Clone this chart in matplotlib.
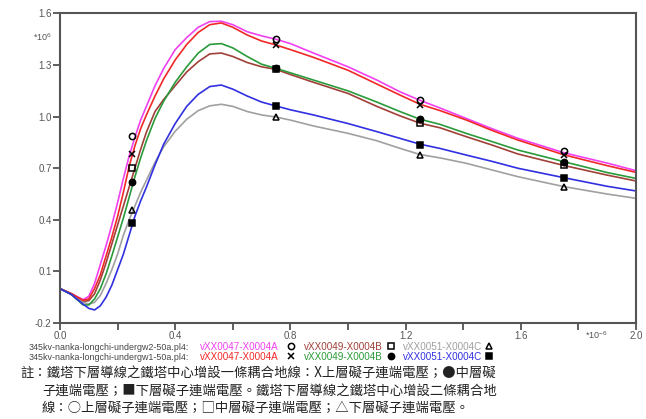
import matplotlib
matplotlib.use("Agg")
import matplotlib.pyplot as plt
from matplotlib.lines import Line2D

# time axis (x 1e-6 s) and induced voltages (x 1e6 V)
t = [0.0, 0.04, 0.08, 0.10, 0.12, 0.14, 0.16, 0.18, 0.20, 0.22, 0.24, 0.26, 0.28, 0.30,
     0.33, 0.36, 0.40, 0.44, 0.48, 0.52, 0.56, 0.60, 0.65, 0.70, 0.75, 0.80, 0.88, 1.0,
     1.1, 1.18, 1.25, 1.32, 1.41, 1.5, 1.59, 1.75, 1.9, 2.0]

gw2_a = [0.0, -0.03, -0.064, -0.045, 0.03, 0.14, 0.25, 0.37, 0.50, 0.64, 0.77, 0.88, 0.98, 1.06,
         1.18, 1.28, 1.39, 1.46, 1.52, 1.553, 1.555, 1.535, 1.494, 1.47, 1.45, 1.425, 1.37, 1.29,
         1.213, 1.145, 1.095, 1.05, 0.99, 0.93, 0.874, 0.79, 0.73, 0.686]
gw1_a = [0.0, -0.03, -0.068, -0.06, 0.0, 0.08, 0.19, 0.30, 0.42, 0.56, 0.71, 0.83, 0.93, 1.01,
         1.12, 1.22, 1.33, 1.42, 1.49, 1.535, 1.545, 1.52, 1.475, 1.44, 1.417, 1.39, 1.345, 1.27,
         1.19, 1.126, 1.072, 1.035, 0.981, 0.92, 0.864, 0.778, 0.715, 0.676]
gw2_b = [0.0, -0.03, -0.075, -0.07, -0.03, 0.05, 0.15, 0.26, 0.37, 0.48, 0.59, 0.70, 0.81, 0.91,
         1.03, 1.10, 1.18, 1.26, 1.32, 1.365, 1.37, 1.35, 1.315, 1.29, 1.275, 1.245, 1.2, 1.135,
         1.06, 1.005, 0.962, 0.935, 0.884, 0.835, 0.783, 0.716, 0.66, 0.626]
gw1_b = [0.0, -0.035, -0.095, -0.095, -0.06, 0.0, 0.085, 0.19, 0.30, 0.41, 0.53, 0.65, 0.76, 0.86,
         0.99, 1.09, 1.20, 1.29, 1.37, 1.42, 1.425, 1.40, 1.35, 1.305, 1.281, 1.255, 1.213, 1.15,
         1.085, 1.03, 0.985, 0.955, 0.903, 0.855, 0.806, 0.738, 0.675, 0.641]
gw2_c = [0.0, -0.035, -0.08, -0.09, -0.08, -0.04, 0.03, 0.11, 0.20, 0.31, 0.40, 0.48, 0.56, 0.63,
         0.735, 0.825, 0.915, 0.985, 1.035, 1.063, 1.072, 1.06, 1.03, 1.01, 0.998, 0.98, 0.946, 0.903,
         0.86, 0.816, 0.78, 0.76, 0.729, 0.69, 0.651, 0.593, 0.55, 0.525]
gw1_c = [0.0, -0.035, -0.09, -0.115, -0.124, -0.1, -0.05, 0.02, 0.11, 0.20, 0.31, 0.42, 0.51, 0.59,
         0.72, 0.84, 0.96, 1.06, 1.13, 1.175, 1.184, 1.16, 1.12, 1.085, 1.062, 1.04, 1.01, 0.96,
         0.913, 0.874, 0.84, 0.815, 0.777, 0.74, 0.70, 0.645, 0.595, 0.568]

# symbol points
t_mark = [0.25, 0.75, 1.25, 1.75]
mk_gw2_a = [0.888, 1.452, 1.097, 0.80]
mk_gw1_a = [0.783, 1.417, 1.07, 0.777]
mk_gw2_b = [0.701, 1.277, 0.962, 0.716]
mk_gw1_b = [0.62, 1.283, 0.988, 0.735]
mk_gw2_c = [0.457, 0.998, 0.779, 0.593]
mk_gw1_c = [0.38, 1.062, 0.838, 0.645]

names = ["vXX0047-X0004A", "vXX0049-X0004B", "vXX0051-X0004C"]
files = ["345kv-nanka-longchi-undergw2-50a.pl4:", "345kv-nanka-longchi-undergw1-50a.pl4:"]
yticks = [-0.2, 0.1, 0.4, 0.7, 1.0, 1.3, 1.6]
xticks = [0.0, 0.4, 0.8, 1.2, 1.6, 2.0]

note = ["註：鐵塔下層導線之鐵塔中心增設一條耦合地線：X上層礙子連端電壓；●中層礙",
        "子連端電壓；■下層礙子連端電壓。鐵塔下層導線之鐵塔中心增設二條耦合地",
        "線：○上層礙子連端電壓；□中層礙子連端電壓；△下層礙子連端電壓。"]

plt.rcParams["font.family"] = ["Liberation Sans", "DejaVu Sans"]

series = [
    (gw2_a, mk_gw2_a, "#f040f0", "o", "none"),
    (gw2_b, mk_gw2_b, "#a04038", "s", "none"),
    (gw2_c, mk_gw2_c, "#a0a0a0", "^", "none"),
    (gw1_a, mk_gw1_a, "#f02828", "x", "black"),
    (gw1_b, mk_gw1_b, "#2a9a3a", "o", "black"),
    (gw1_c, mk_gw1_c, "#3030e0", "s", "black"),
]

W, H = 646, 419
fig = plt.figure(figsize=(W / 100, H / 100), dpi=100)
ax = fig.add_axes([60 / W, 1 - 323 / H, 576 / W, 309.5 / H])

for ys, mk, color, marker, face in series:
    ax.plot(t, ys, color=color, lw=1.2, zorder=2)
for ys, mk, color, marker, face in series:
    ax.plot(t_mark, mk, ls="none", marker=marker, ms=4.5, mfc=face, mec="black",
            mew=1.1, zorder=3, clip_on=False)

ax.set_xlim(0, 2.0)
ax.set_ylim(-0.2, 1.6)
ax.set_yticks(yticks)
ax.set_yticklabels([f"{v:.1f}" for v in yticks])
ax.set_xticks(xticks)
ax.set_xticklabels([f"{v:.1f}" for v in xticks])
ax.set_xticks([0.2, 0.6, 1.0, 1.4, 1.8], minor=True)
ax.tick_params(axis="both", which="both", direction="out", length=5, width=1.2,
               color="#444444", labelsize=7, labelcolor="#555555", pad=1)
for s in ax.spines.values():
    s.set_color("#555555")
    s.set_linewidth(1.5)

fig.text(33 / W, 1 - 37 / H, r"*10$^{\mathregular{6}}$", fontsize=6.5, color="#555555", va="center")
fig.text(585 / W, 1 - 335 / H, r"*10$^{\mathregular{-6}}$", fontsize=6.5, color="#555555", va="center")

# legend rows under the axis
label_x = [200, 304, 403]
mark_x = [291, 391, 489]
row_y = [347, 357]
for r in range(2):
    fig.text(29 / W, 1 - row_y[r] / H, files[r], fontsize=6.4, color="#444444", va="center")
    for k in range(3):
        ys, mk, color, marker, face = series[r * 3 + k]
        fig.text(label_x[k] / W, 1 - row_y[r] / H, names[k], fontsize=7.1, color=color, va="center")
        fig.add_artist(Line2D([mark_x[k] / W], [1 - (row_y[r] - 1) / H], marker=marker, ms=4.5,
                              mfc=face, mec="black", mew=1.1, ls="none",
                              transform=fig.transFigure))

cjk = ["Noto Sans CJK TC", "DejaVu Sans"]
note_pos = [(20, 373), (42, 391), (42, 408)]
for line, (x, y) in zip(note, note_pos):
    fig.text(x / W, 1 - y / H, line, fontsize=9.6, family=cjk, color="#222222", va="center")

fig.savefig("out.png", dpi=100)
